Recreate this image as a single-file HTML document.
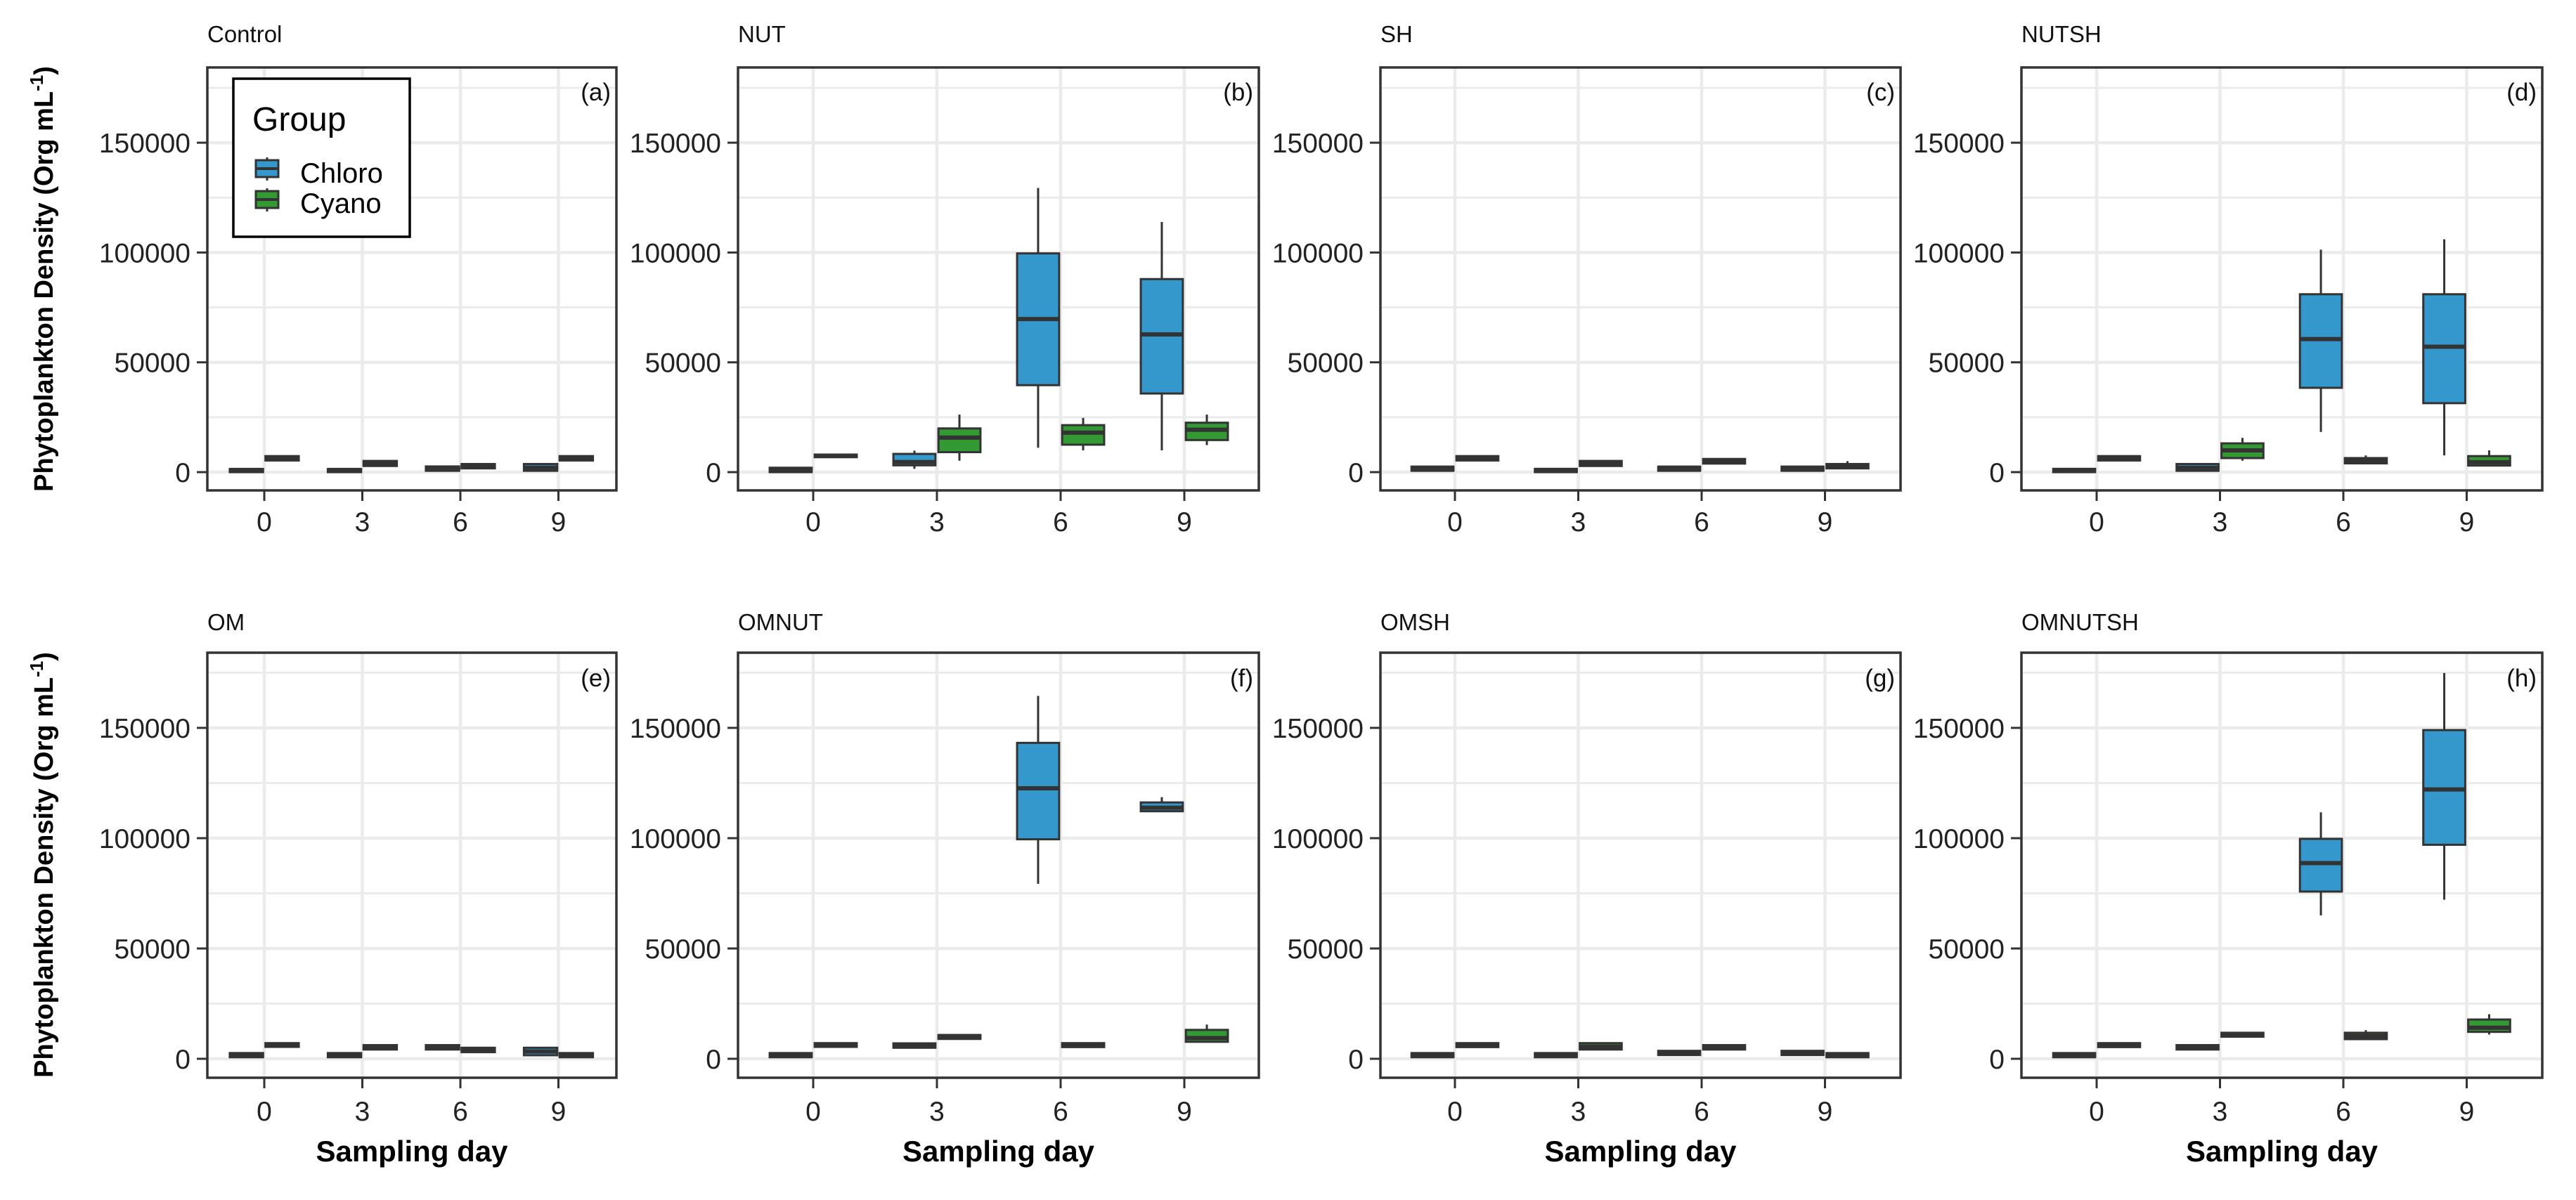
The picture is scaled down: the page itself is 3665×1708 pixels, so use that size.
<!DOCTYPE html>
<html><head><meta charset="utf-8">
<style>
html,body{margin:0;padding:0;background:#fff;}
svg{display:block;}
text{font-family:"Liberation Sans",Arial,sans-serif;}
</style></head>
<body>
<svg id="chart" xmlns="http://www.w3.org/2000/svg" width="3665" height="1708" viewBox="0 0 3665 1708"></svg>
<script>
// ---- data: [min, q1, median, q3, max] per sampling day (0,3,6,9) ----
const days = [0, 3, 6, 9];
const panelTitles = ["Control","NUT","SH","NUTSH","OM","OMNUT","OMSH","OMNUTSH"];
const panelTags = ["(a)","(b)","(c)","(d)","(e)","(f)","(g)","(h)"];
const yTicks = [0, 50000, 100000, 150000];
const yTickLabels = ["0","50000","100000","150000"];

const chloroControl = [[0,0,1000,1400,1400],[0,0,1000,1400,1400],[600,600,2000,2600,2600],[600,600,2000,3700,3700]];
const cyanoControl  = [[5300,5300,6500,7300,7300],[2800,2800,4000,5100,5100],[1700,1700,3000,3700,3700],[5300,5300,6500,7300,7300]];
const chloroNUT = [[0,0,1400,2000,2000],[1500,3100,4600,8300,9800],[11100,39600,69700,99600,129400],[9900,35800,62700,87900,113900]];
const cyanoNUT  = [[6800,6800,7500,8000,8000],[5200,9100,15700,19900,26200],[9900,12500,18000,21400,24700],[12300,14600,19300,22500,26200]];
const chloroSH = [[600,600,2000,2500,2500],[0,0,500,1500,1500],[600,600,2000,2500,2500],[600,600,2000,2500,2500]];
const cyanoSH  = [[5300,5300,6500,7300,7300],[2800,2800,4000,5100,5100],[3900,3900,5000,6000,6000],[1700,1700,3000,3700,5000]];
const chloroNUTSH = [[0,0,500,1500,1500],[600,600,2000,3700,3700],[18300,38400,60600,81000,101300],[7600,31400,57100,81000,106000]];
const cyanoNUTSH  = [[5300,5300,6500,7300,7300],[5200,6400,9900,13100,15600],[4000,4000,5200,6400,7600],[3000,3000,4500,7300,9900]];
const chloroOM = [[700,700,1600,2600,2600],[700,700,1600,2600,2600],[4200,4200,5200,6200,6200],[1600,1600,3300,5000,5000]];
const cyanoOM  = [[5400,5400,6500,7100,7100],[4200,4200,5200,6200,6200],[3000,3000,4000,5000,5000],[700,700,1600,2600,2600]];
const chloroOMNUT = [[700,700,1600,2600,2600],[5000,5000,6000,7000,7000],[79300,99500,122600,143200,164500],[112200,112200,113800,116200,118600]];
const cyanoOMNUT  = [[5400,5400,6500,7100,7100],[9000,9000,10000,10800,10800],[5300,5300,6200,7100,7100],[7700,7700,9400,13100,15500]];
const chloroOMSH = [[700,700,1600,2600,2600],[700,700,1600,2600,2600],[1700,1700,2600,3600,3600],[1700,1700,2600,3600,3600]];
const cyanoOMSH  = [[5300,5300,6300,7100,7100],[4200,4200,5500,7100,7100],[4200,4200,5200,6200,6200],[700,700,1600,2600,2600]];
const chloroOMNUTSH = [[700,700,1600,2600,2600],[4200,4200,5200,6200,6200],[65000,75800,88700,99700,111700],[72100,97000,122100,149000,174900]];
const cyanoOMNUTSH  = [[5300,5300,6300,7100,7100],[10000,10000,11000,11800,11800],[8900,8900,10300,11800,13000],[11000,12200,14100,17800,20200]];

const chloroSets = [chloroControl,chloroNUT,chloroSH,chloroNUTSH,chloroOM,chloroOMNUT,chloroOMSH,chloroOMNUTSH];
const cyanoSets  = [cyanoControl,cyanoNUT,cyanoSH,cyanoNUTSH,cyanoOM,cyanoOMNUT,cyanoOMSH,cyanoOMNUTSH];

// ---- layout ----
const NS = "http://www.w3.org/2000/svg";
const svg = document.getElementById("chart");
const CHLORO = "#3498cc", CYANO = "#339933", INK = "#333333", GRID = "#ebebeb";
const cols = [
  {l:295, r:877, t0:376, dt:139.5/3},
  {l:1050, r:1791, t0:1157, dt:176/3},
  {l:1964, r:2704, t0:2070, dt:175.5/3},
  {l:2876, r:3617, t0:2983, dt:175.5/3}
];
const rows = [
  {t:96, b:698, y0:672, per:156.3/50000, titleY:60, tagY:143, tickY:756},
  {t:929, b:1534, y0:1507, per:157/50000, titleY:897, tagY:977, tickY:1595}
];
function el(tag, attrs, parent){
  const e = document.createElementNS(NS, tag);
  for (const k in attrs) e.setAttribute(k, attrs[k]);
  (parent||svg).appendChild(e);
  return e;
}

for (let p = 0; p < 8; p++) {
  const c = cols[p % 4], r = rows[Math.floor(p / 4)];
  const xs = d => c.t0 + d * c.dt;
  const ys = v => r.y0 - v * r.per;
  const g = el("g", {});
  
  

  // minor gridlines
  for (let v = 25000; v <= 175000; v += 50000) {
    const yy = ys(v);
    if (yy > r.t && yy < r.b) el("line",{x1:c.l,x2:c.r,y1:yy,y2:yy,stroke:GRID,"stroke-width":3},g);
  }
  // major y gridlines + ticks
  yTicks.forEach((v, i) => {
    const yy = ys(v);
    el("line",{x1:c.l,x2:c.r,y1:yy,y2:yy,stroke:GRID,"stroke-width":4.5},g);
    el("line",{x1:c.l-15,x2:c.l,y1:yy,y2:yy,stroke:INK,"stroke-width":3},g);
    const t = el("text",{x:c.l-24,y:yy+14,"text-anchor":"end","font-size":39,fill:"#222"},g);
    t.textContent = yTickLabels[i];
    
    
  });
  // x gridlines + ticks
  days.forEach(d => {
    const xx = xs(d);
    el("line",{x1:xx,x2:xx,y1:r.t,y2:r.b,stroke:GRID,"stroke-width":4.5},g);
    el("line",{x1:xx,x2:xx,y1:r.b,y2:r.b+15,stroke:INK,"stroke-width":3},g);
    const t = el("text",{x:xx,y:r.tickY,"text-anchor":"middle","font-size":39,fill:"#222"},g);
    t.textContent = String(d);
    
    
  });

  // boxes
  const bw = c.dt * 3 * 0.34, off = c.dt * 3 * 0.182;
  [[chloroSets[p], CHLORO, -off, 'chloro'], [cyanoSets[p], CYANO, off, 'cyano']].forEach(([set, col, dx, nm]) => {
    set.forEach((s, i) => {
      const cx = xs(days[i]) + dx;
      const bg = el("g", {}, g);
      
      
      el("line",{x1:cx,x2:cx,y1:ys(s[4]),y2:ys(s[3]),stroke:INK,"stroke-width":3},bg);
      el("line",{x1:cx,x2:cx,y1:ys(s[1]),y2:ys(s[0]),stroke:INK,"stroke-width":3},bg);
      const h = Math.max(ys(s[1]) - ys(s[3]), 0);
      el("rect",{x:cx-bw/2,y:ys(s[3]),width:bw,height:h,fill:col,stroke:INK,"stroke-width":3},bg);
      el("line",{x1:cx-bw/2,x2:cx+bw/2,y1:ys(s[2]),y2:ys(s[2]),stroke:INK,"stroke-width":6},bg);
    });
  });

  // panel border
  el("rect",{x:c.l,y:r.t,width:c.r-c.l,height:r.b-r.t,fill:"none",stroke:INK,"stroke-width":3.5},g);
  // title & tag
  const tt = el("text",{x:c.l,y:r.titleY,"font-size":33,fill:"#111"},g);
  tt.textContent = panelTitles[p];
  
  
  const tg = el("text",{x:c.r-8,y:r.tagY,"text-anchor":"end","font-size":35,fill:"#111"},g);
  tg.textContent = panelTags[p];
  
  
  if (p >= 4) {
    const xt = el("text",{x:(c.l+c.r)/2,y:1653,"text-anchor":"middle","font-size":42,"font-weight":"bold",fill:"#000"},g);
    xt.textContent = "Sampling day";
    
    
  }
}

// y-axis titles
[397, 1231].forEach(cy => {
  const t = el("text",{x:0,y:0,transform:"translate(75,"+cy+") rotate(-90)","text-anchor":"middle","font-size":38,"font-weight":"bold",fill:"#000"});
  t.innerHTML = 'Phytoplankton Density (Org mL<tspan dy="-14" font-size="26">-1</tspan><tspan dy="14">)</tspan>';
  
  
});

// legend
const lg = el("g", {});


el("rect",{x:332,y:112,width:251,height:225,fill:"#fff",stroke:"#000","stroke-width":3.5},lg);
const lt = el("text",{x:359,y:186,"font-size":48,fill:"#000"},lg);
lt.textContent = "Group";


[[CHLORO,"Chloro",228,260],[CYANO,"Cyano",272,303]].forEach(([col,lab,by,ty]) => {
  const e = el("g", {}, lg);
  
  
  el("line",{x1:380,x2:380,y1:by-4,y2:by+29,stroke:INK,"stroke-width":3},e);
  el("rect",{x:364,y:by,width:32,height:24,fill:col,stroke:INK,"stroke-width":3},e);
  el("line",{x1:364,x2:396,y1:by+12,y2:by+12,stroke:INK,"stroke-width":4},e);
  const t = el("text",{x:427,y:ty,"font-size":40,fill:"#000"},e);
  t.textContent = lab;
});
</script>
</body></html>
